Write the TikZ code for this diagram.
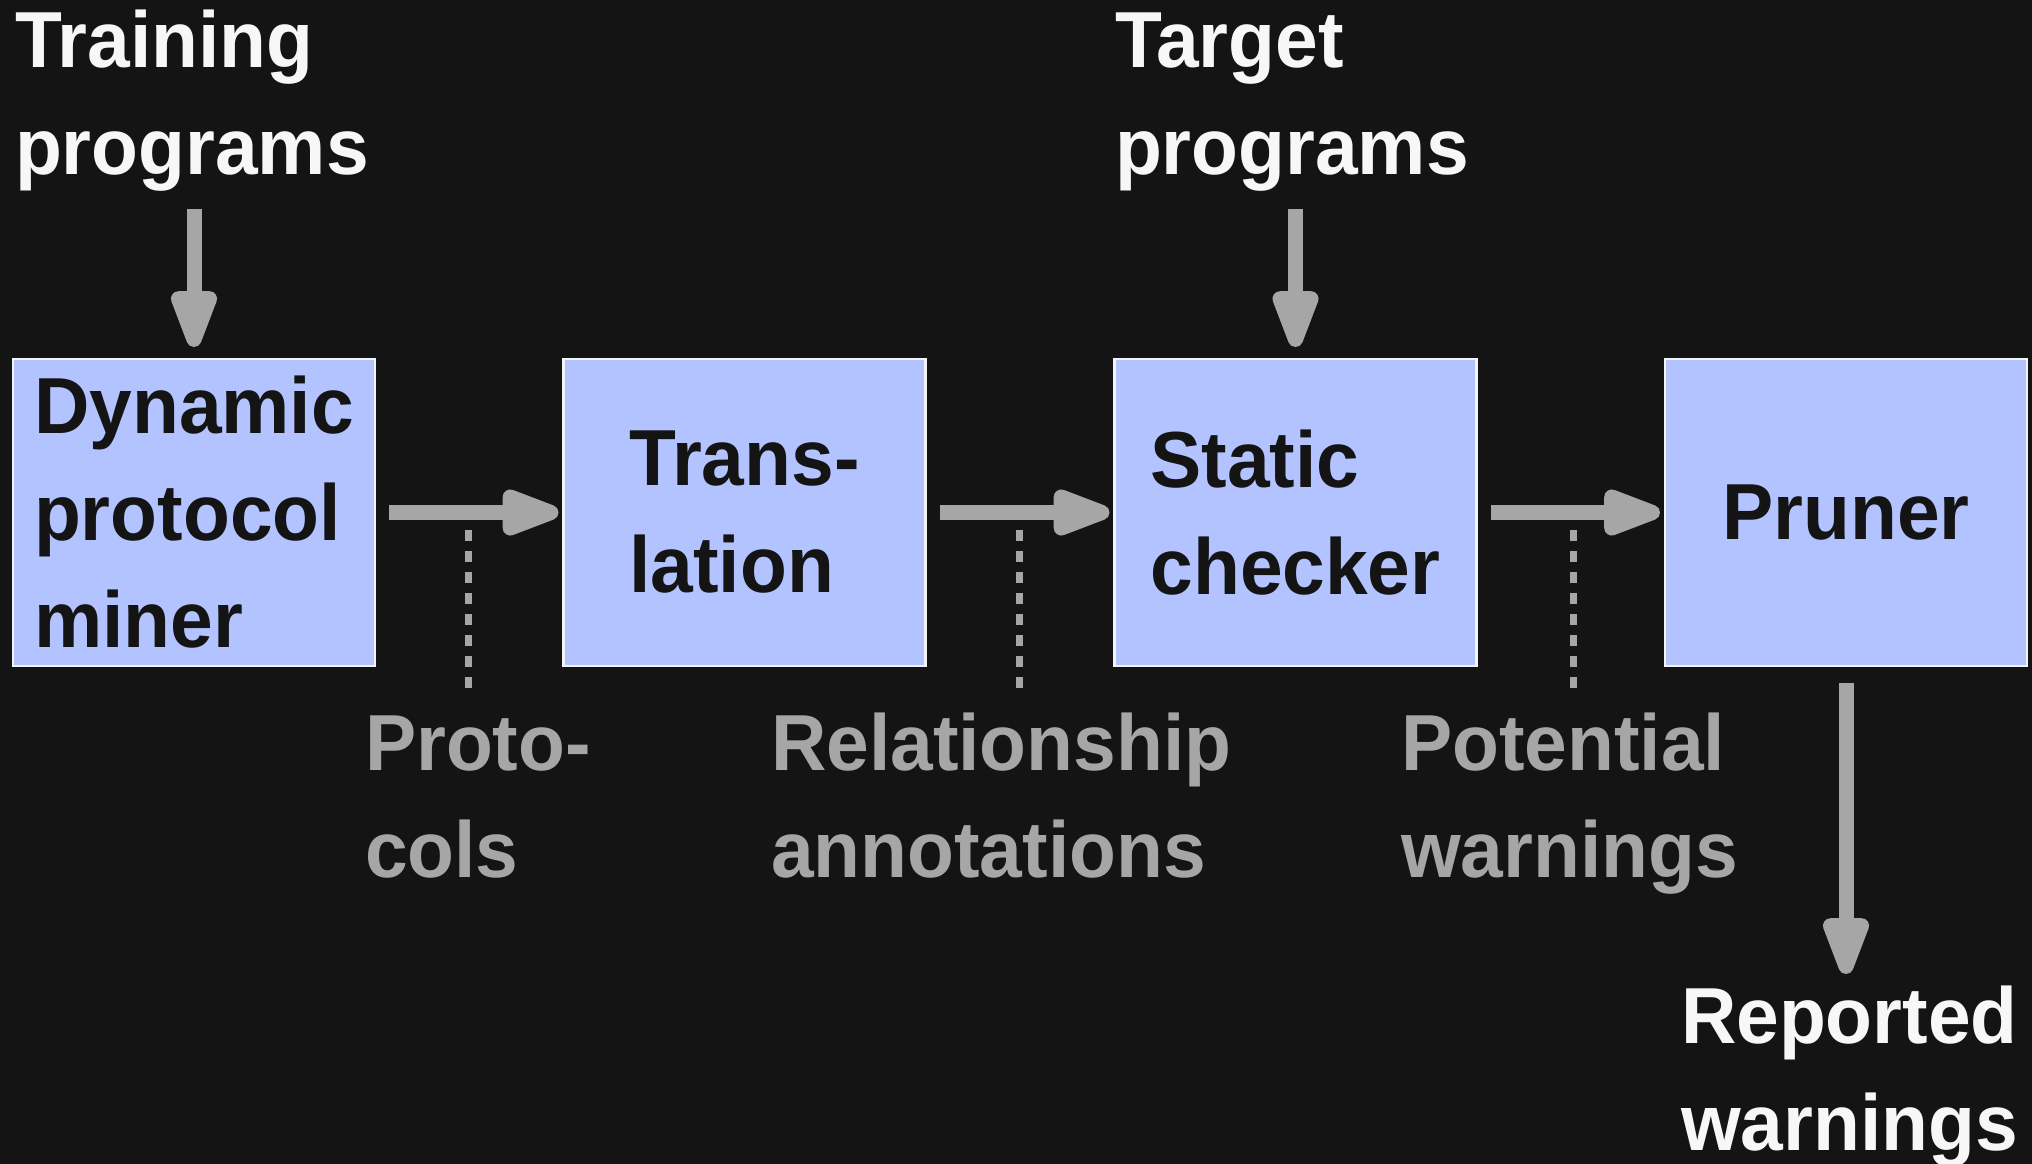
\documentclass[tikz,border=0pt]{standalone}
\usepackage{fontspec}
\newfontfamily\diafont{Liberation Sans}[FakeStretch=0.965]
\usetikzlibrary{arrows.meta}

\definecolor{bgc}{HTML}{141414}
\definecolor{boxfill}{HTML}{B3C3FF}
\definecolor{boxline}{HTML}{F4F4F4}
\definecolor{boxtext}{HTML}{141414}
\definecolor{inktext}{HTML}{F7F7F7}
\definecolor{flowgray}{HTML}{A6A6A6}

% invisible rule that fixes the height of a label's first line
\newcommand\topstrut{\rule{0pt}{60pt}}

\begin{document}
\begin{tikzpicture}[x=1pt, y=-1pt,
  bigtext/.style={font=\diafont\bfseries\fontsize{79.5}{107}\selectfont},
  stage/.style={bigtext, draw=boxline, line width=2.5pt, fill=boxfill,
    minimum width=362pt, minimum height=307pt, inner sep=0pt, outer sep=0pt,
    align=left, text=boxtext},
  lbl/.style={bigtext, inner sep=0pt, outer sep=0pt, anchor=north west, align=left},
  inlbl/.style={lbl, text=inktext},
  datalbl/.style={lbl, text=flowgray},
  flow/.style={draw=flowgray, line width=15pt,
    -{Triangle[length=72pt, width=48pt, round]}},
  tap/.style={draw=flowgray, line width=7pt, dash pattern=on 11pt off 10pt}
]
  \useasboundingbox (0,0) rectangle (2032,1164);
  \fill[bgc] (0,0) rectangle (2032,1164);

  % pipeline stages
  \node[stage] (miner)   at (194,512.5)    {Dynamic\\protocol\\miner};
  \node[stage] (trans)   at (744.5,512.5)  {Trans-\\lation};
  \node[stage] (checker) at (1295.5,512.5) {Static\\checker};
  \node[stage] (pruner)  at (1846,512.5)   {Pruner};

  % inputs and output
  \node[inlbl] (train)  at (15,7)     {\topstrut Training\\programs};
  \node[inlbl] (target) at (1115,7)   {\topstrut Target\\programs};
  \node[inlbl] (report) at (1681,983) {\topstrut Reported\\warnings};

  % intermediate artefacts
  \node[datalbl] (protos)  at (365,710)  {\topstrut Proto-\\cols};
  \node[datalbl] (annots)  at (771,710)  {\topstrut Relationship\\annotations};
  \node[datalbl] (warns)   at (1401,710) {\topstrut Potential\\warnings};

  % main flow
  \draw[flow, shorten <=14pt, shorten >=5pt] (miner.east) -- (trans.west);
  \draw[flow, shorten <=14pt, shorten >=5pt] (trans.east) -- (checker.west);
  \draw[flow, shorten <=14pt, shorten >=5pt] (checker.east) -- (pruner.west);

  \draw[flow, shorten <=18pt, shorten >=12pt] (train.south -| miner.north) -- (miner.north);
  \draw[flow, shorten <=18pt, shorten >=12pt] (target.south -| checker.north) -- (checker.north);
  \draw[flow, shorten <=17pt, shorten >=9pt] (pruner.south) -- (report.north -| pruner.south);

  % dotted taps from each flow arrow to its artefact
  \coordinate (tap1a) at (468,530);  \coordinate (tap1b) at (468,689);
  \coordinate (tap2a) at (1019,530); \coordinate (tap2b) at (1019,689);
  \coordinate (tap3a) at (1573,530); \coordinate (tap3b) at (1573,689);
  \draw[tap] (tap1a) -- (tap1b);
  \draw[tap] (tap2a) -- (tap2b);
  \draw[tap] (tap3a) -- (tap3b);
\end{tikzpicture}
\end{document}
